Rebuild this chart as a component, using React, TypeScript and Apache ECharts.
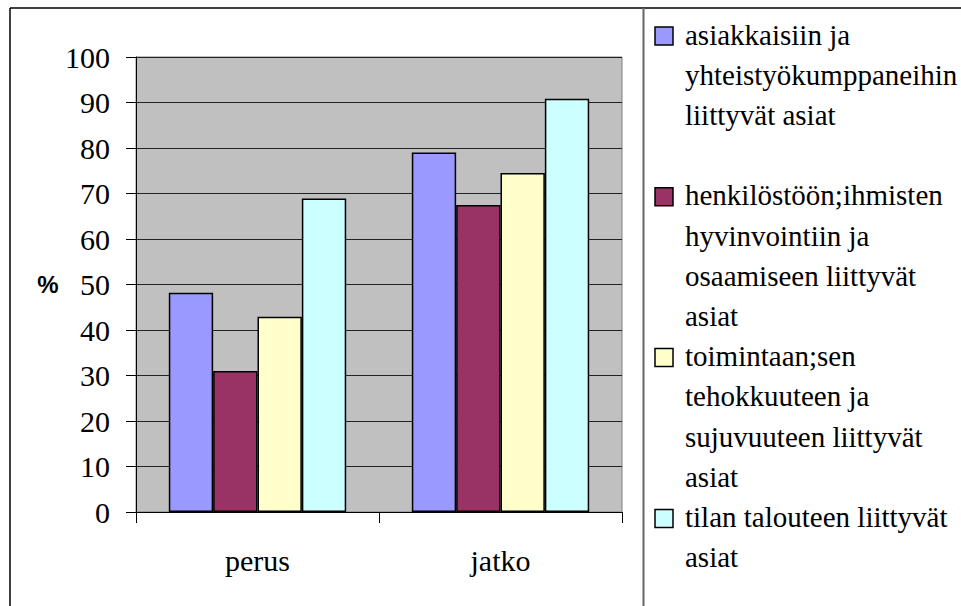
import React, { useEffect, useRef } from "react";
import * as echarts from "echarts";

const categories = ["perus", "jatko"];
const seriesNames = [
  "asiakkaisiin ja yhteistyökumppaneihin liittyvät asiat",
  "henkilöstöön;ihmisten hyvinvointiin ja osaamiseen liittyvät asiat",
  "toimintaan;sen tehokkuuteen ja sujuvuuteen liittyvät asiat",
  "tilan talouteen liittyvät asiat",
];
const legendLines = [
  ["asiakkaisiin ja", "yhteistyökumppaneihin", "liittyvät asiat", ""],
  ["henkilöstöön;ihmisten", "hyvinvointiin ja", "osaamiseen liittyvät", "asiat"],
  ["toimintaan;sen", "tehokkuuteen ja", "sujuvuuteen liittyvät", "asiat"],
  ["tilan talouteen liittyvät", "asiat"],
];
const asiakasValues = [48.2, 79.0];
const henkilostoValues = [31.0, 67.5];
const toimintaValues = [42.9, 74.5];
const talousValues = [68.9, 90.8];
const seriesValues = [asiakasValues, henkilostoValues, toimintaValues, talousValues];
const colors = ["#9999FF", "#993366", "#FFFFCC", "#CCFFFF"];

const SERIF = "Liberation Serif";
const SLOT = 40.2;
const LEGEND_TOP = 14.4;

export default function App() {
  const ref = useRef<HTMLDivElement>(null);
  useEffect(() => {
    if (!ref.current) return;
    const chart = echarts.init(ref.current, undefined, { renderer: "svg" });
    const slots: string[] = [];
    const boxes: any[] = [];
    legendLines.forEach((lines, i) => {
      const firstCenter = LEGEND_TOP + SLOT * (slots.length + 0.5);
      boxes.push({
        type: "rect",
        shape: { x: 655, y: firstCenter + 1.5 - 9, width: 18, height: 18 },
        style: { fill: colors[i], stroke: "#000", lineWidth: 1.5 },
      });
      lines.forEach((l) => slots.push(l));
    });
    chart.setOption({
      animation: false,
      backgroundColor: "#fff",
      grid: [
        {
          left: 136,
          top: 57,
          right: 339,
          bottom: 94,
          show: true,
          backgroundColor: "#C0C0C0",
          borderColor: "#808080",
          borderWidth: 1,
        },
        {
          left: 685,
          top: LEGEND_TOP,
          width: 270,
          height: SLOT * slots.length,
          show: false,
        },
      ],
      xAxis: [
        {
          type: "category",
          data: categories,
          axisLine: { show: true, lineStyle: { color: "#000", width: 1 } },
          axisTick: { show: true, length: 11, lineStyle: { color: "#000" } },
          axisLabel: { margin: 33, fontSize: 30, fontFamily: SERIF, color: "#000" },
          splitLine: { show: false },
        },
        { type: "value", gridIndex: 1, show: false },
      ],
      yAxis: [
        {
          type: "value",
          min: 0,
          max: 100,
          interval: 10,
          name: "%",
          nameLocation: "middle",
          nameRotate: 0,
          nameGap: 88,
          nameTextStyle: {
            fontFamily: "Liberation Sans",
            fontWeight: "bold",
            fontSize: 24,
            color: "#000",
            align: "center",
            verticalAlign: "middle",
          },
          axisLine: { show: true, lineStyle: { color: "#000", width: 1 } },
          axisTick: { show: true, length: 10, lineStyle: { color: "#000" } },
          axisLabel: { margin: 26, fontSize: 30, fontFamily: SERIF, color: "#000" },
          splitLine: { show: true, lineStyle: { color: "#222", width: 1 } },
        },
        {
          type: "category",
          gridIndex: 1,
          inverse: true,
          data: slots,
          axisLine: { show: false },
          axisTick: { show: false },
          splitLine: { show: false },
          axisLabel: {
            inside: true,
            margin: 0,
            interval: 0,
            hideOverlap: false,
            fontSize: 29,
            fontFamily: SERIF,
            color: "#000",
            align: "left",
          },
        },
      ],
      series: seriesNames.map((name, i) => ({
        name,
        type: "bar",
        data: seriesValues[i],
        barGap: "0%",
        barCategoryGap: "27%",
        itemStyle: { color: colors[i], borderColor: "#000", borderWidth: 1.5 },
      })),
      graphic: [
        {
          type: "line",
          shape: { x1: 10, y1: 8, x2: 961, y2: 8 },
          style: { stroke: "#000", lineWidth: 1.5 },
        },
        {
          type: "line",
          shape: { x1: 10, y1: 8, x2: 10, y2: 606 },
          style: { stroke: "#000", lineWidth: 1.5 },
        },
        {
          type: "line",
          shape: { x1: 643.5, y1: 8, x2: 643.5, y2: 606 },
          style: { stroke: "#666", lineWidth: 2 },
        },
        ...boxes,
      ],
    });
    return () => chart.dispose();
  }, []);
  return (
    <div
      ref={ref}
      style={{ position: "fixed", left: 0, top: 0, width: 961, height: 606 }}
    />
  );
}
